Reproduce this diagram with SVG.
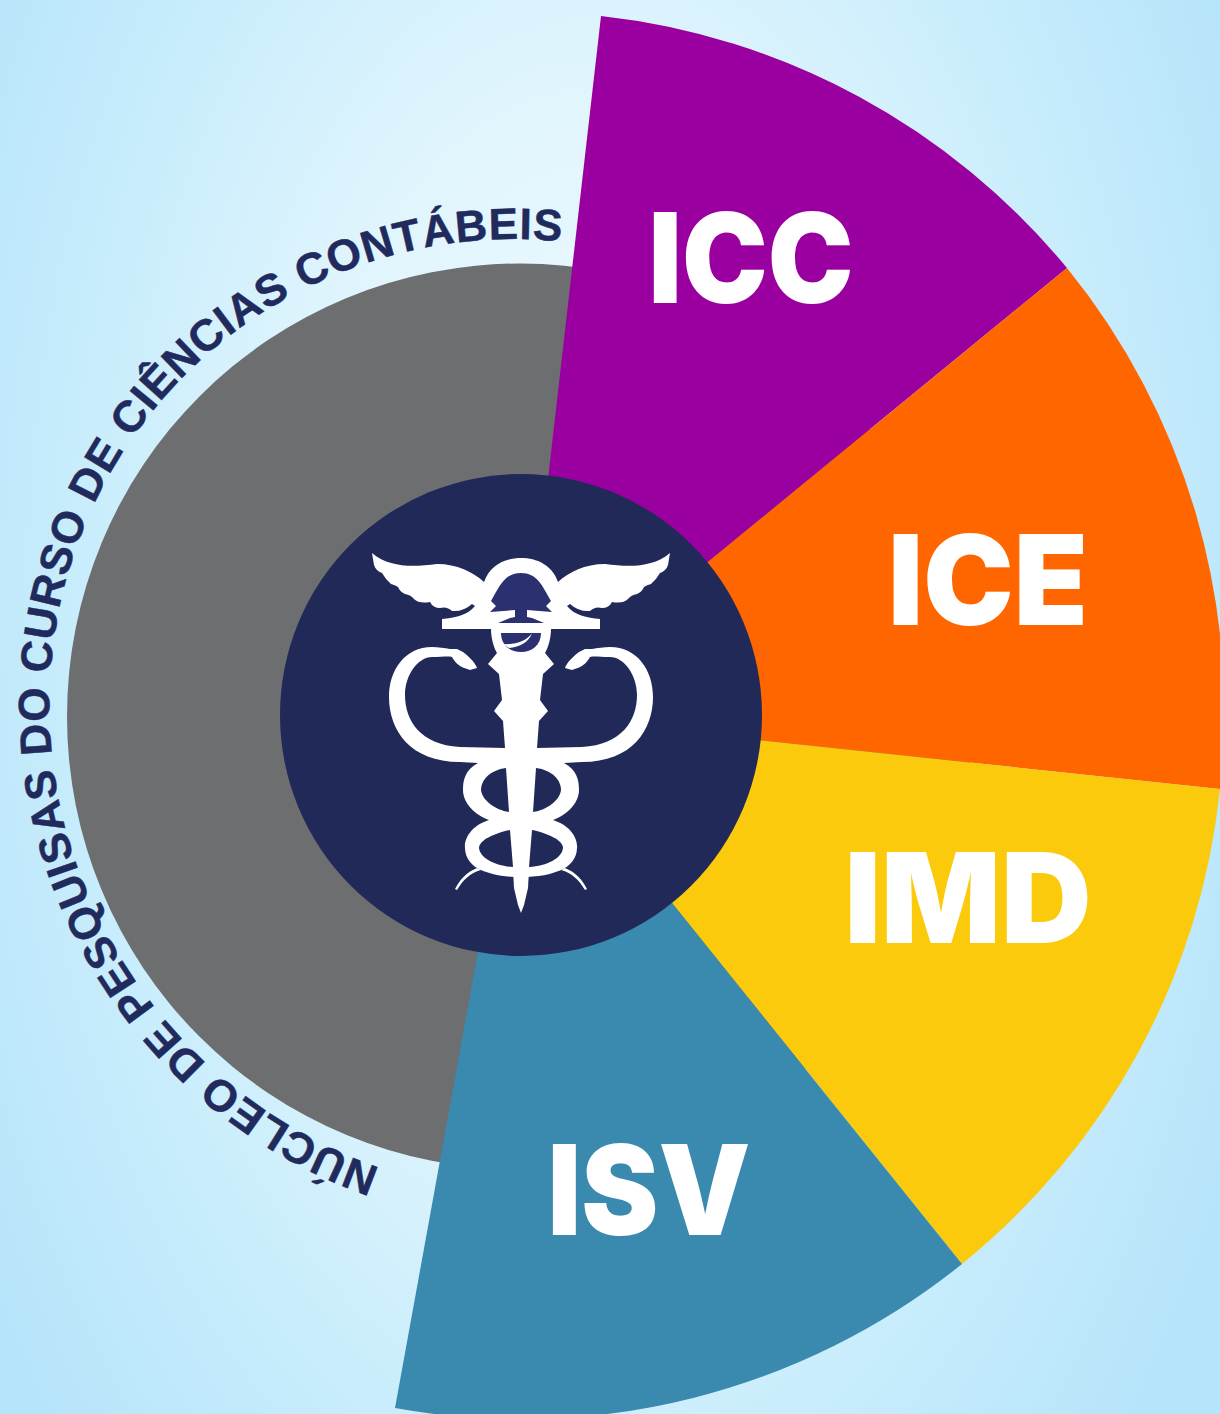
<svg xmlns="http://www.w3.org/2000/svg" width="1220" height="1414" viewBox="0 0 1220 1414">
<style>
.lbl{font-family:"Inter","Liberation Sans",sans-serif;font-weight:900;font-size:125px;fill:#fff;text-anchor:middle}
.arc{font-family:"Liberation Sans",Arial,sans-serif;font-weight:700;font-size:44px;fill:#212a5c;stroke:#212a5c;stroke-width:.5}
.w{fill:#fff}.n{fill:#212959}.d{fill:#2a3070}
</style>
<defs>
<radialGradient id="bg" gradientUnits="userSpaceOnUse" cx="0" cy="0" r="1" gradientTransform="translate(590 600) scale(720 1250)">
<stop offset="0" stop-color="#f0fafe"/><stop offset="0.4" stop-color="#e1f5fd"/><stop offset="0.7" stop-color="#c9edfc"/><stop offset="1" stop-color="#b6e4fa"/>
</radialGradient>
<path id="tp" d="M380 1168A484 472 45 0 1 590 244.9"/>
<g id="half">
<path class="w" d="M372 553C390 568 413 567 437 564C457 564 473 572 484 582L521 620V629H442V619C455 618 468 615 475 606L472 604Q463 612 452 611Q447 606 440 608Q433 608 430 602Q419 604 414 599Q411 595 405 594Q400 592 398 587Q395 585 391 584Q386 580 382 573Q376 571 374 565Z"/>
<path class="w" d="M484 582C490 565 505 558 521 558V625H484Z"/>
<path class="d" d="M521 573C505 573 500 585 491 601L496 606L490 612L515 610L515 617L510 618L498 623H521Z"/>
<path class="w" d="M491 629C491 640 495 650 497 653L488 664L499 674L502 700L494 711L503 721L505 748H521V629Z"/>
<path class="w" d="M477 668C475 662 468 656 463 652L457 649H450C445 648 438 647 432 647C405 647 389 670 389 697C389 730 410 762 460 762L478 763C465 770 463 780 463 790C463 803 475 815 489 820C470 826 464 840 465 848C465 858 472 865 477 868C490 875 505 877 521 877V748L505 748L460 747C420 745 405 720 405 695C405 675 418 657 432 657C442 657 448 656 452 657C456 664 460 667 470 670Z"/>
<path class="n" d="M506 768C490 770 481 780 481 790C482 800 495 810 509 812Z"/>
<path class="n" d="M510 830C495 833 479 840 479 848C480 858 495 866 513 867Z"/>
<path class="w" d="M513 870H521V913L518 905L514 888Z"/>
<path class="w" d="M455 889C462 875 472 870 477 868L481 870C470 873 463 880 457 890Z"/>
</g>
</defs>
<rect width="1220" height="1414" fill="url(#bg)"/>
<g id="node-outer">
<circle cx="520" cy="716.5" r="453" fill="#6d6e70"/>
</g>
<g id="node-icc"><path fill="#9a00a0" d="M521 715L601 16A704 704 0 0 1 1067 268Z"/><text class="lbl" x="751" y="303" textLength="205" lengthAdjust="spacingAndGlyphs">ICC</text></g>
<g id="node-ice"><path fill="#ff6600" d="M521 715L1067 268A704 704 0 0 1 1220 789Z"/><text class="lbl" x="988" y="625" textLength="200" lengthAdjust="spacingAndGlyphs">ICE</text></g>
<g id="node-imd"><path fill="#fcca0d" d="M521 715L1220 789A704 704 0 0 1 962 1264Z"/><text class="lbl" x="968" y="943" textLength="247" lengthAdjust="spacingAndGlyphs">IMD</text></g>
<g id="node-isv"><path fill="#3a8ab0" d="M521 715L962 1264A704 704 0 0 1 395 1408Z"/><text class="lbl" x="649" y="1235" textLength="203" lengthAdjust="spacingAndGlyphs">ISV</text></g>
<g id="node-center">
<circle cx="521" cy="715" r="241" fill="#212959"/>
<use href="#half"/>
<use href="#half" transform="translate(1042 0) scale(-1 1)"/>
<path class="d" d="M501 633H541C541 645 532 652 521 652C510 652 501 645 501 633Z"/>
<path class="w" d="M503 644C515 645 527 641 532 633C529 642 520 647 509 648Z"/>
</g>
<g id="node-title"><text class="arc"><textPath href="#tp" textLength="1385" lengthAdjust="spacing">NÚCLEO DE PESQUISAS DO CURSO DE CIÊNCIAS CONTÁBEIS</textPath></text></g>
</svg>
